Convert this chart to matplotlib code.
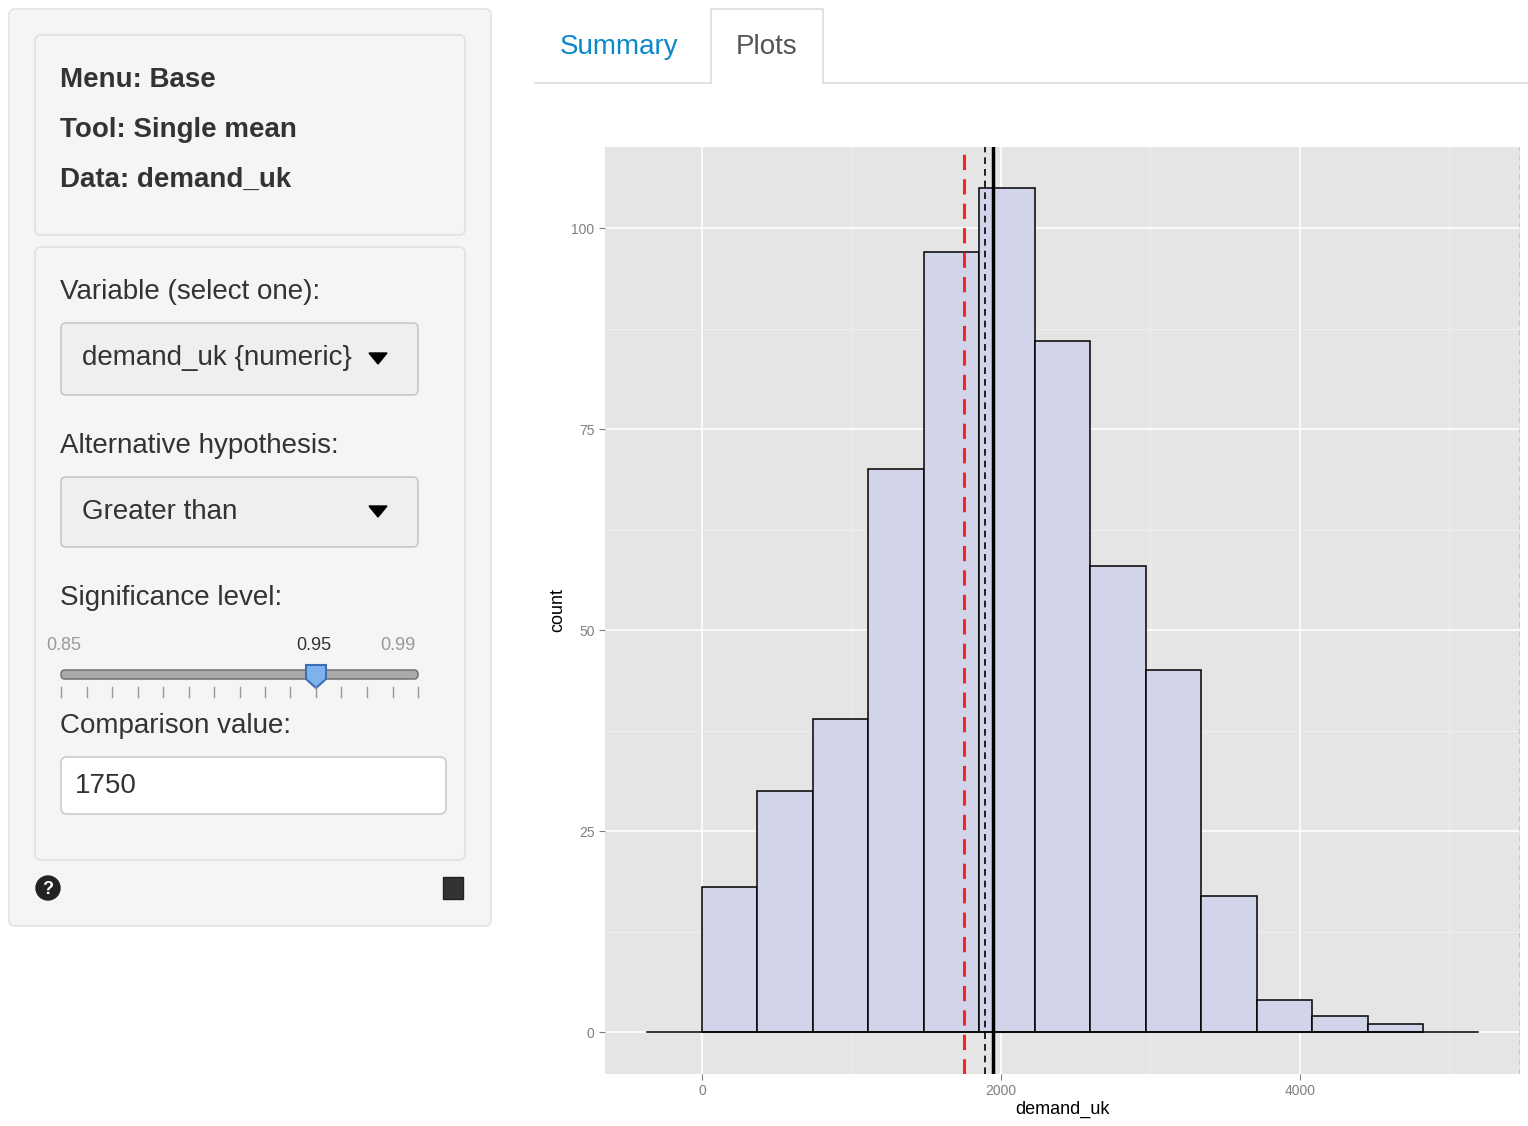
import matplotlib.pyplot as plt
from matplotlib.patches import FancyBboxPatch, Rectangle, Polygon
import numpy as np

plt.rcParams['font.family'] = ['Liberation Sans', 'DejaVu Sans']

# histogram data
bin_start = 0
bin_width = 371
counts = [18, 30, 39, 70, 97, 105, 86, 58, 45, 17, 4, 2, 1]
comparison_value = 1750
dashed_black = 1893
solid_black = 1947
max_line = 5470
x_ticks = [0, 2000, 4000]
y_ticks = [0, 25, 50, 75, 100]

slider_values = np.round(np.arange(0.85, 0.995, 0.01), 2)

fig = plt.figure(figsize=(15.28, 11.26), dpi=100)
ui = fig.add_axes([0, 0, 1, 1])
ui.set_xlim(0, 1528)
ui.set_ylim(1126, 0)
ui.axis('off')

def box(x, y, w, h, fc, ec, r=6, lw=1.2):
    ui.add_patch(FancyBboxPatch((x, y), w, h, boxstyle="round,pad=0,rounding_size=%d" % r,
                                fc=fc, ec=ec, lw=lw))

# sidebar
box(9, 9, 482, 917, '#f5f5f5', '#e3e3e3')
box(35, 35, 430, 200, '#f5f5f5', '#e0e0e0')
for i, t in enumerate(['Menu: Base', 'Tool: Single mean', 'Data: demand_uk']):
    ui.text(60, 80 + 50 * i, t, fontsize=20, fontweight='bold', color='#333333', va='center')
box(35, 247, 430, 613, '#f5f5f5', '#e0e0e0')
ui.text(60, 292, 'Variable (select one):', fontsize=20, color='#333333', va='center')
box(61, 323, 357, 72, '#efefef', '#c8c8c8', r=5)
ui.text(82, 358, 'demand_uk {numeric}', fontsize=20, color='#333333', va='center')
ui.add_patch(Polygon([[369, 353], [387, 353], [378, 364]], color='black'))
ui.text(60, 446, 'Alternative hypothesis:', fontsize=20, color='#333333', va='center')
box(61, 477, 357, 70, '#efefef', '#c8c8c8', r=5)
ui.text(82, 512, 'Greater than', fontsize=20, color='#333333', va='center')
ui.add_patch(Polygon([[369, 506], [387, 506], [378, 517]], color='black'))
ui.text(60, 598, 'Significance level:', fontsize=20, color='#333333', va='center')

# slider
sx0, sx1 = 61, 418
def sx(v):
    return sx0 + (v - 0.85) / 0.14 * (sx1 - sx0)
ui.text(sx(0.85) + 3, 646, '0.85', fontsize=13, color='#999999', va='center', ha='center')
ui.text(sx(0.99) - 20, 646, '0.99', fontsize=13, color='#999999', va='center', ha='center')
ui.text(sx(0.95) - 2, 646, '0.95', fontsize=13, color='#333333', va='center', ha='center')
box(sx0, 670, sx1 - sx0, 9, '#aaaaaa', '#777777', r=4)
for v in slider_values:
    ui.plot([sx(v), sx(v)], [687, 697], color='#999999', lw=1)
hx = sx(0.95)
ui.add_patch(Polygon([[hx - 10, 665], [hx + 10, 665], [hx + 10, 679], [hx, 688], [hx - 10, 679]],
                     fc='#7fb2ec', ec='#3a6fb5', lw=1.5))
ui.text(60, 726, 'Comparison value:', fontsize=20, color='#333333', va='center')
box(61, 757, 385, 57, 'white', '#cccccc', r=6)
ui.text(75, 786, '1750', fontsize=20, color='#333333', va='center')
ui.add_patch(plt.Circle((48, 888), 12, color='#222222'))
ui.text(48, 889, '?', fontsize=13, color='white', fontweight='bold', ha='center', va='center')
ui.add_patch(Rectangle((443, 877), 20, 22, fc='#333333', ec='#222222'))

# tabs
ui.plot([535, 711], [83, 83], color='#dddddd', lw=1.2)
ui.plot([823, 1528], [83, 83], color='#dddddd', lw=1.2)
ui.plot([711, 711, 823, 823], [83, 9, 9, 83], color='#dddddd', lw=1.2)
ui.text(619, 47, 'Summary', fontsize=20, color='#0a88c9', ha='center', va='center')
ui.text(767, 47, 'Plots', fontsize=20, color='#555555', ha='center', va='center')

# histogram
ax = fig.add_axes([605 / 1528, 52 / 1126, 915 / 1528, 927 / 1126])
ax.set_facecolor('#e5e5e5')
edges = bin_start + bin_width * np.arange(len(counts) + 1)
ax.bar(edges[:-1], counts, width=bin_width, align='edge', color='#d2d4ea', edgecolor='black', lw=1.1, zorder=3)
ax.plot([edges[0] - bin_width, edges[-1] + bin_width], [0, 0], color='black', lw=1.1, zorder=3)
ax.axvline(comparison_value, color='#ff2020', ls=(0, (5, 3)), lw=2.2, zorder=4)
ax.axvline(dashed_black, color='black', ls=(0, (4, 3)), lw=1.2, zorder=4)
ax.axvline(solid_black, color='black', lw=2.5, zorder=4)
ax.axvline(max_line, color='#555555', ls=(0, (4, 3)), lw=1, zorder=4)
ax.set_xlim(-649, 5472)
ax.set_ylim(-5.2, 110.1)
ax.set_xticks(x_ticks)
ax.set_yticks(y_ticks)
ax.set_xticks([1000, 3000, 5000], minor=True)
ax.set_yticks([12.5, 37.5, 62.5, 87.5], minor=True)
ax.grid(which='major', color='white', lw=1.2, zorder=0)
ax.grid(which='minor', color='#f0f0f0', lw=0.6, zorder=0)
ax.set_axisbelow(True)
for s in ax.spines.values():
    s.set_visible(False)
ax.tick_params(which='major', colors='#7f7f7f', labelsize=10, length=4)
ax.tick_params(which='minor', length=0)
ax.set_xlabel('demand_uk', fontsize=13, labelpad=2)
ax.set_ylabel('count', fontsize=13)

fig.savefig('out.png', dpi=100, facecolor='white')
